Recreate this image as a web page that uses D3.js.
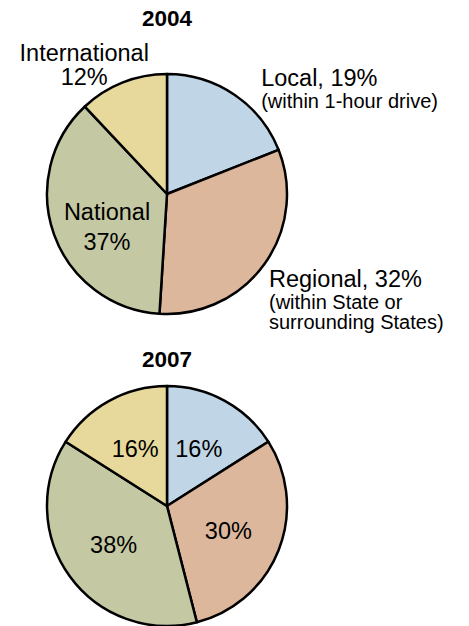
<!DOCTYPE html>
<html>
<head>
<meta charset="utf-8">
<script src="https://cdn.jsdelivr.net/npm/d3@7"></script>
<style>
  html, body { margin: 0; padding: 0; background: #fff; }
  svg { display: block; font-family: "Liberation Sans", Arial, Helvetica, sans-serif; }
</style>
</head>
<body>
<div id="chart"></div>
<script>
// Chart data
const categories = ["Local", "Regional", "National", "International"];
const years = ["2004", "2007"];
const values2004 = [19, 32, 37, 12];
const values2007 = [16, 30, 38, 16];
const notes = ["(within 1-hour drive)", "(within State or|surrounding States)", "", ""];
const colours = ["#c0d5e5", "#dcb79c", "#c4c9a3", "#e7d99b"];

const width = 469;
const height = 626;
const radius = 120;

const svg = d3.select("#chart").append("svg")
  .attr("width", width)
  .attr("height", height);

const colour = d3.scaleOrdinal().domain(categories).range(colours);

const pie = d3.pie().sort(null).value((d) => d.value);
const arc = d3.arc().innerRadius(0).outerRadius(radius);

// Draw one pie, returns its group and baked data
const drawPie = (values, cx, cy) => {
  const data = categories.map((c, i) => ({ name: c, value: values[i], note: notes[i] }));
  const baked = pie(data);
  const g = svg.append("g").attr("transform", `translate(${cx},${cy})`);
  g.selectAll("path.slice")
    .data(baked)
    .enter()
    .append("path")
    .attr("class", "slice")
    .attr("d", arc)
    .attr("fill", (d) => colour(d.data.name))
    .attr("stroke", "#000")
    .attr("stroke-width", 2.5)
    .attr("stroke-linejoin", "round");
  return { g, baked };
};

const addTitle = (text, x, y) =>
  svg.append("text")
    .attr("x", x)
    .attr("y", y)
    .attr("text-anchor", "middle")
    .style("font-weight", "bold")
    .style("font-size", "22.5px")
    .text(text);

// Writes a block of lines: first line big, the rest smaller
const addBlock = (g, lines, x, y, anchor, lineGap) => {
  const t = g.append("text")
    .attr("text-anchor", anchor)
    .attr("x", x)
    .attr("y", y);
  lines.forEach((ln, i) => {
    t.append("tspan")
      .attr("x", x)
      .attr("dy", i === 0 ? 0 : (ln.small && i > 1 ? 20.5 : lineGap))
      .style("font-size", ln.small ? "20px" : "23.5px")
      .text(ln.text);
  });
};

// ---- 2004 ----
const cx = 167;
const cy1 = 194;
addTitle(years[0], cx, 26);
const p1 = drawPie(values2004, cx, cy1);

p1.baked.forEach((d) => {
  const name = d.data.name;
  const pct = d.data.value + "%";
  const small = d.data.note ? d.data.note.split("|").map((s) => ({ text: s, small: true })) : [];
  if (name === "Local") {
    addBlock(p1.g, [{ text: `${name}, ${pct}` }, ...small], radius * 0.785, -radius * 0.9, "start", 21.5);
  } else if (name === "Regional") {
    addBlock(p1.g, [{ text: `${name}, ${pct}` }, ...small], radius * 0.85, radius * 0.775, "start", 21.5);
  } else if (name === "International") {
    addBlock(p1.g, [{ text: name }, { text: pct }], -radius * 0.69, -radius * 1.105, "middle", 24);
  } else {
    addBlock(p1.g, [{ text: name }, { text: pct }], -radius * 0.5, radius * 0.215, "middle", 30);
  }
});

// ---- 2007 ----
const cy2 = 506;
addTitle(years[1], cx, 367);
const p2 = drawPie(values2007, cx, cy2);
const labelArc = d3.arc().innerRadius(radius * 0.55).outerRadius(radius * 0.55);

p2.g.selectAll("text.pct")
  .data(p2.baked)
  .enter()
  .append("text")
  .attr("class", "pct")
  .attr("transform", (d) => `translate(${labelArc.centroid(d)})`)
  .attr("text-anchor", "middle")
  .attr("dy", "0.36em")
  .style("font-size", "23.5px")
  .text((d) => d.data.value + "%");
</script>
</body>
</html>
